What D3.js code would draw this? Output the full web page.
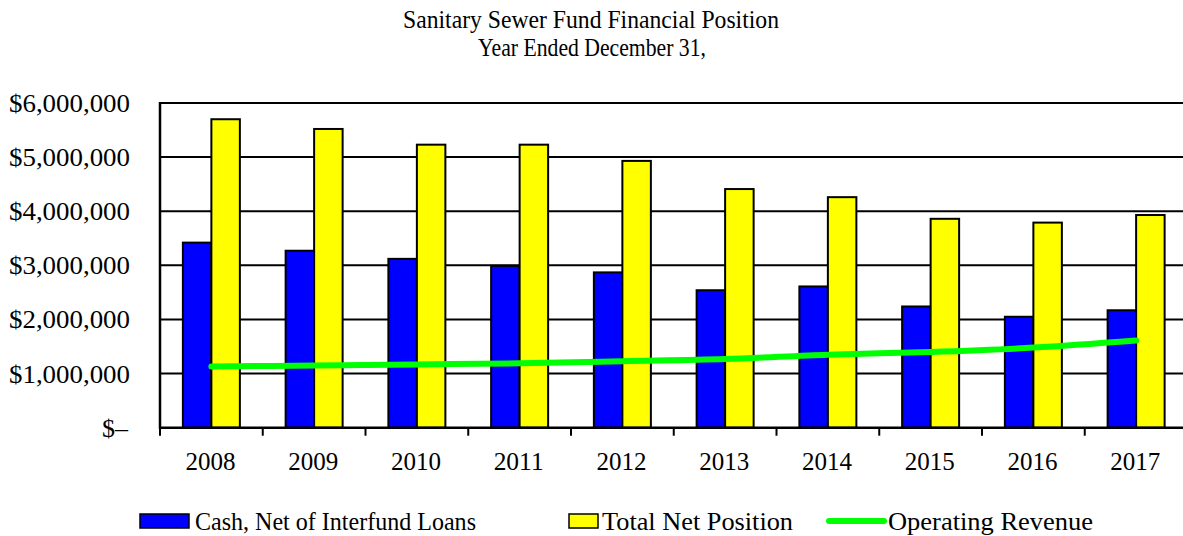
<!DOCTYPE html>
<html>
<head>
<meta charset="utf-8">
<script src="https://cdn.jsdelivr.net/npm/d3@7"></script>
<style>
  body { margin: 0; background: #fff; overflow: hidden; }
  svg { display: block; font-family: "Liberation Serif", "Times New Roman", serif; }
</style>
</head>
<body>
<script>
var width = 1183,
    height = 536;

// data (dollars)
var years = ["2008", "2009", "2010", "2011", "2012", "2013", "2014", "2015", "2016", "2017"];
var cashNet = [3420000, 3270000, 3120000, 2990000, 2870000, 2540000, 2610000, 2240000, 2050000, 2170000];
var netPosition = [5700000, 5520000, 5230000, 5230000, 4930000, 4410000, 4260000, 3860000, 3790000, 3930000];
var opRevenue = [1130000, 1150000, 1170000, 1190000, 1230000, 1270000, 1350000, 1400000, 1480000, 1610000];
var yTicks = [0, 1000000, 2000000, 3000000, 4000000, 5000000, 6000000];
var seriesNames = ["Cash, Net of Interfund Loans", "Total Net Position", "Operating Revenue"];
var color = ["#0000FF", "#FFFF00", "#00FF00"];

var plot = {left: 160, right: 1187.5, top: 103, bottom: 427.7};

var svg = d3.select("body").append("svg")
    .attr("width", width)
    .attr("height", height);

var x = d3.scaleBand().domain(years).range([plot.left, plot.right]);
var xSub = d3.scaleBand().domain([0, 1]).range([0, 57]);
var y = d3.scaleLinear().domain([0, 6000000]).range([plot.bottom, plot.top]);

// title
svg.append("text")
    .attr("x", 591).attr("y", 28)
    .attr("text-anchor", "middle")
    .attr("font-size", 26)
    .attr("textLength", 376).attr("lengthAdjust", "spacingAndGlyphs")
    .text("Sanitary Sewer Fund Financial Position");
svg.append("text")
    .attr("x", 592).attr("y", 56)
    .attr("text-anchor", "middle")
    .attr("font-size", 26)
    .attr("textLength", 228).attr("lengthAdjust", "spacingAndGlyphs")
    .text("Year Ended December 31,");

// gridlines
svg.selectAll("line.grid").data(yTicks.slice(1))
    .enter().append("line")
    .attr("class", "grid")
    .attr("x1", plot.left).attr("x2", plot.right)
    .attr("y1", function (d) { return y(d); })
    .attr("y2", function (d) { return y(d); })
    .attr("stroke", "#000").attr("stroke-width", 2);

// y labels
function fmt(d) {
    if (d === 0) return "$\u2013";
    return "$" + d3.format(",")(d);
}
svg.selectAll("text.ylab").data(yTicks)
    .enter().append("text")
    .attr("class", "ylab")
    .attr("x", function (d) { return d === 0 ? 128 : 130; })
    .attr("y", function (d) { return y(d) + 9; })
    .attr("text-anchor", "end")
    .attr("font-size", 26)
    .attr("textLength", function (d) { return d === 0 ? 26 : 121; })
    .attr("lengthAdjust", "spacingAndGlyphs")
    .text(fmt);

// bars
var groups = svg.selectAll("g.year").data(years)
    .enter().append("g")
    .attr("class", "year")
    .attr("transform", function (d) { return "translate(" + (x(d) + (x.bandwidth() - 57) / 2) + ",0)"; });

groups.append("rect")
    .attr("x", xSub(0))
    .attr("y", function (d, i) { return y(cashNet[i]); })
    .attr("width", xSub.bandwidth())
    .attr("height", function (d, i) { return y(0) - y(cashNet[i]); })
    .attr("fill", color[0]).attr("stroke", "#000").attr("stroke-width", 2);

groups.append("rect")
    .attr("x", xSub(1))
    .attr("y", function (d, i) { return y(netPosition[i]); })
    .attr("width", xSub.bandwidth())
    .attr("height", function (d, i) { return y(0) - y(netPosition[i]); })
    .attr("fill", color[1]).attr("stroke", "#000").attr("stroke-width", 2);

// axes lines
svg.append("line")
    .attr("x1", plot.left).attr("x2", plot.left)
    .attr("y1", plot.top - 1).attr("y2", plot.bottom + 1)
    .attr("stroke", "#000").attr("stroke-width", 2.5);
svg.append("line")
    .attr("x1", plot.left).attr("x2", plot.right)
    .attr("y1", plot.bottom).attr("y2", plot.bottom)
    .attr("stroke", "#000").attr("stroke-width", 2.5);

// category ticks
svg.selectAll("line.xtick").data(years)
    .enter().append("line")
    .attr("class", "xtick")
    .attr("x1", function (d) { return x(d); })
    .attr("x2", function (d) { return x(d); })
    .attr("y1", plot.bottom).attr("y2", plot.bottom + 8)
    .attr("stroke", "#000").attr("stroke-width", 2);

svg.selectAll("text.xlab").data(years)
    .enter().append("text")
    .attr("class", "xlab")
    .attr("x", function (d) { return x(d) + x.bandwidth() / 2 - 1; })
    .attr("y", plot.bottom + 42)
    .attr("text-anchor", "middle")
    .attr("font-size", 26)
    .attr("textLength", 50).attr("lengthAdjust", "spacingAndGlyphs")
    .text(function (d) { return d; });

// operating revenue line
var line = d3.line()
    .x(function (d, i) { return x(years[i]) + x.bandwidth() / 2; })
    .y(function (d) { return y(d); })
    .curve(d3.curveCatmullRom);

svg.append("path")
    .datum(opRevenue)
    .attr("d", line)
    .attr("fill", "none")
    .attr("stroke", color[2])
    .attr("stroke-width", 6)
    .attr("stroke-linecap", "round");

// legend
var legendY = 521;
svg.append("rect")
    .attr("x", 140).attr("y", legendY - 7).attr("width", 49).attr("height", 14)
    .attr("fill", color[0]).attr("stroke", "#000").attr("stroke-width", 1.5);
svg.append("text")
    .attr("x", 195).attr("y", legendY + 9)
    .attr("font-size", 26)
    .attr("textLength", 281).attr("lengthAdjust", "spacingAndGlyphs")
    .text(seriesNames[0]);

svg.append("rect")
    .attr("x", 569).attr("y", legendY - 7).attr("width", 29).attr("height", 14)
    .attr("fill", color[1]).attr("stroke", "#000").attr("stroke-width", 1.5);
svg.append("text")
    .attr("x", 602).attr("y", legendY + 9)
    .attr("font-size", 26)
    .attr("textLength", 191).attr("lengthAdjust", "spacingAndGlyphs")
    .text(seriesNames[1]);

svg.append("line")
    .attr("x1", 829).attr("x2", 884)
    .attr("y1", legendY).attr("y2", legendY)
    .attr("stroke", color[2]).attr("stroke-width", 6).attr("stroke-linecap", "round");
svg.append("text")
    .attr("x", 888).attr("y", legendY + 9)
    .attr("font-size", 26)
    .attr("textLength", 205).attr("lengthAdjust", "spacingAndGlyphs")
    .text(seriesNames[2]);
</script>
</body>
</html>
